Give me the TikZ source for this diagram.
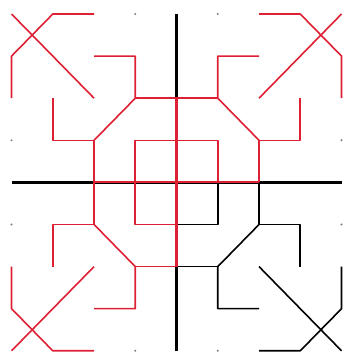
\documentclass[tikz,border=0pt]{standalone}
\usepackage{tikz}
\usepackage{xcolor}
\definecolor{figred}{RGB}{222,32,52}

\begin{document}
\begin{tikzpicture}[x=41.25pt,y=42.1pt,line join=round,
  axis/.style={black, line width=2.3pt},
  piece/.style={line width=1.6pt}]
  \useasboundingbox (-4.28,-4.1) rectangle (4.06,4.333);
  % grid dots
  \foreach \p in {(-1,4),(1,4),(-4,1),(4,1),(-4,-1),(4,-1),(-1,-4),(1,-4)}
    \fill[gray] \p circle (1.1pt);
  % axes
  \draw[axis] (-4,0) -- (4,0);
  \draw[axis] (0,4) -- (0,-4);
  % the black quarter
  \draw[piece, black] (0,-1) -- (1,-1) -- (1,0);
  \draw[piece, black] (2,0) -- (2,-1) -- (3,-1) -- (3,-2);
  \draw[piece, black] (2,-1) -- (1,-2) -- (1,-3) -- (2,-3);
  \draw[piece, black] (1,-2) -- (0,-2);
  \draw[piece, black] (2,-2) -- (4,-4);
  \draw[piece, black] (4,-2) -- (4,-3) -- (3,-4) -- (2,-4);
  % the red copies
  \foreach \sx/\sy in {1/-1,-1/1,-1/-1} {
    \begin{scope}[xscale=\sx, yscale=\sy]
      \draw[piece, figred] (0,-1) -- (1,-1) -- (1,0);
      \draw[piece, figred] (2,0) -- (2,-1) -- (3,-1) -- (3,-2);
      \draw[piece, figred] (2,-1) -- (1,-2) -- (1,-3) -- (2,-3);
      \draw[piece, figred] (1,-2) -- (0,-2);
      \draw[piece, figred] (2,-2) -- (4,-4);
      \draw[piece, figred] (4,-2) -- (4,-3) -- (3,-4) -- (2,-4);
    \end{scope}
  }
  \draw[piece, figred, line width=2.1pt] (-2,0) -- (2,0);
  \draw[piece, figred, line width=2.1pt] (0,2) -- (0,-2);
\end{tikzpicture}
\end{document}
